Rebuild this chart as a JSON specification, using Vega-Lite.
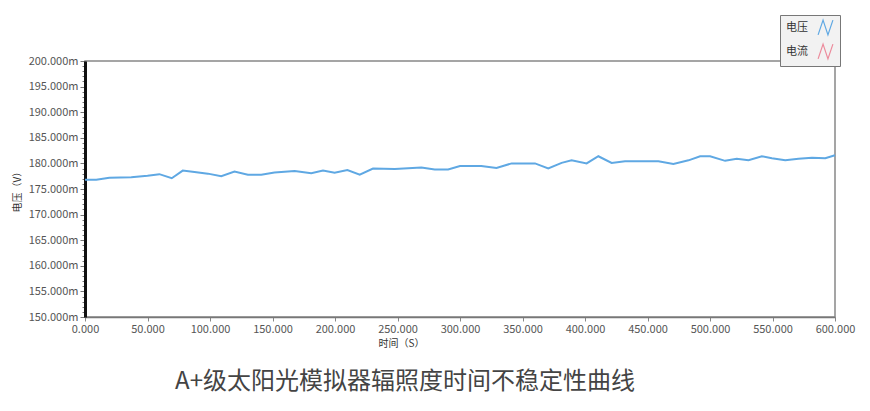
{
  "$schema": "https://vega.github.io/schema/vega-lite/v6.json",
  "autosize": "none",
  "width": 750,
  "height": 256,
  "padding": {"left": 85, "top": 61, "right": 35, "bottom": 94},
  "background": "white",
  "config": {
    "font": "Noto Sans CJK SC",
    "view": {"stroke": "#888888", "strokeWidth": 1.5}
  },
  "title": {
    "text": "A+级太阳光模拟器辐照度时间不稳定性曲线",
    "orient": "bottom",
    "anchor": "middle",
    "dx": -55,
    "offset": 22,
    "fontSize": 24,
    "fontWeight": "normal",
    "color": "#444444",
    "font": "Noto Sans CJK SC"
  },
  "data": {
    "values": [
      {"t": 0, "v": 176.8, "s": "电压"},
      {"t": 9, "v": 176.8, "s": "电压"},
      {"t": 19.5, "v": 177.2, "s": "电压"},
      {"t": 37, "v": 177.3, "s": "电压"},
      {"t": 50, "v": 177.6, "s": "电压"},
      {"t": 59.5, "v": 177.9, "s": "电压"},
      {"t": 69.4, "v": 177.1, "s": "电压"},
      {"t": 78.2, "v": 178.6, "s": "电压"},
      {"t": 87.6, "v": 178.3, "s": "电压"},
      {"t": 98.3, "v": 178.0, "s": "电压"},
      {"t": 109, "v": 177.5, "s": "电压"},
      {"t": 119.6, "v": 178.4, "s": "电压"},
      {"t": 130.3, "v": 177.8, "s": "电压"},
      {"t": 141, "v": 177.8, "s": "电压"},
      {"t": 151.6, "v": 178.2, "s": "电压"},
      {"t": 167.7, "v": 178.5, "s": "电压"},
      {"t": 181, "v": 178.1, "s": "电压"},
      {"t": 190.4, "v": 178.6, "s": "电压"},
      {"t": 199.7, "v": 178.2, "s": "电压"},
      {"t": 209.9, "v": 178.7, "s": "电压"},
      {"t": 219.8, "v": 177.8, "s": "电压"},
      {"t": 230.4, "v": 179.0, "s": "电压"},
      {"t": 247.8, "v": 178.9, "s": "电压"},
      {"t": 269.1, "v": 179.2, "s": "电压"},
      {"t": 279.8, "v": 178.8, "s": "电压"},
      {"t": 290.5, "v": 178.8, "s": "电压"},
      {"t": 300, "v": 179.5, "s": "电压"},
      {"t": 317, "v": 179.5, "s": "电压"},
      {"t": 329.2, "v": 179.1, "s": "电压"},
      {"t": 341.3, "v": 180.0, "s": "电压"},
      {"t": 360, "v": 180.0, "s": "电压"},
      {"t": 370.6, "v": 179.0, "s": "电压"},
      {"t": 381.3, "v": 180.1, "s": "电压"},
      {"t": 389.3, "v": 180.6, "s": "电压"},
      {"t": 401.3, "v": 180.0, "s": "电压"},
      {"t": 410.7, "v": 181.4, "s": "电压"},
      {"t": 421.3, "v": 180.1, "s": "电压"},
      {"t": 432, "v": 180.4, "s": "电压"},
      {"t": 458.7, "v": 180.4, "s": "电压"},
      {"t": 470.7, "v": 179.9, "s": "电压"},
      {"t": 482.8, "v": 180.6, "s": "电压"},
      {"t": 492.1, "v": 181.4, "s": "电压"},
      {"t": 500.1, "v": 181.4, "s": "电压"},
      {"t": 512.1, "v": 180.5, "s": "电压"},
      {"t": 521.4, "v": 180.9, "s": "电压"},
      {"t": 530.8, "v": 180.6, "s": "电压"},
      {"t": 541.5, "v": 181.4, "s": "电压"},
      {"t": 549.5, "v": 181.0, "s": "电压"},
      {"t": 560.2, "v": 180.6, "s": "电压"},
      {"t": 570.8, "v": 180.9, "s": "电压"},
      {"t": 581.6, "v": 181.1, "s": "电压"},
      {"t": 592.2, "v": 181.0, "s": "电压"},
      {"t": 600, "v": 181.6, "s": "电压"}
    ]
  },
  "mark": {"type": "line", "strokeWidth": 2, "interpolate": "linear"},
  "encoding": {
    "x": {
      "field": "t",
      "type": "quantitative",
      "scale": {"domain": [0, 600], "nice": false, "zero": false},
      "axis": {
        "title": "时间（S）",
        "titleFontSize": 10,
        "titleFontWeight": "normal",
        "titleColor": "#333333",
        "titleX": 316,
        "titlePadding": 4,
        "values": [0, 50, 100, 150, 200, 250, 300, 350, 400, 450, 500, 550, 600],
        "format": ".3f",
        "labelFontSize": 11,
        "labelColor": "#555555",
        "labelFlush": false,
        "labelOverlap": false,
        "labelPadding": 2,
        "tickSize": 4,
        "tickColor": "#888888",
        "domainColor": "#777777",
        "domainWidth": 1.5,
        "grid": false
      }
    },
    "y": {
      "field": "v",
      "type": "quantitative",
      "scale": {"domain": [150, 200], "nice": false, "zero": false},
      "axis": {
        "title": "电压（V）",
        "titleFontSize": 10,
        "titleFontWeight": "normal",
        "titleColor": "#333333",
        "titlePadding": 6,
        "values": [150,151,152,153,154,155,156,157,158,159,160,161,162,163,164,165,166,167,168,169,170,171,172,173,174,175,176,177,178,179,180,181,182,183,184,185,186,187,188,189,190,191,192,193,194,195,196,197,198,199,200],
        "labelExpr": "datum.value % 5 === 0 ? format(datum.value, '.3f') + 'm' : ''",
        "labelFontSize": 11,
        "labelColor": "#555555",
        "labelFlush": false,
        "labelOverlap": false,
        "labelPadding": 2,
        "tickSize": {"condition": {"test": "datum.value % 5 === 0", "value": 5}, "value": 3},
        "tickColor": "#777777",
        "domainColor": "#111111",
        "domainWidth": 3,
        "grid": false
      }
    },
    "color": {
      "field": "s",
      "type": "nominal",
      "scale": {"domain": ["电压", "电流"], "range": ["#5fa8e3", "#ec8b9c"]},
      "legend": {
        "title": null,
        "orient": "none",
        "legendX": 695,
        "legendY": -46,
        "symbolType": "M-1,1L-0.33,-1L0.33,1L1,-1",
        "symbolSize": 220,
        "symbolStrokeWidth": 1.2,
        "symbolOffset": 33,
        "labelOffset": -48,
        "labelFontSize": 11,
        "labelColor": "#333333",
        "rowPadding": 3,
        "padding": 4,
        "strokeColor": "#777777",
        "fillColor": "#f2f2f2"
      }
    }
  }
}
